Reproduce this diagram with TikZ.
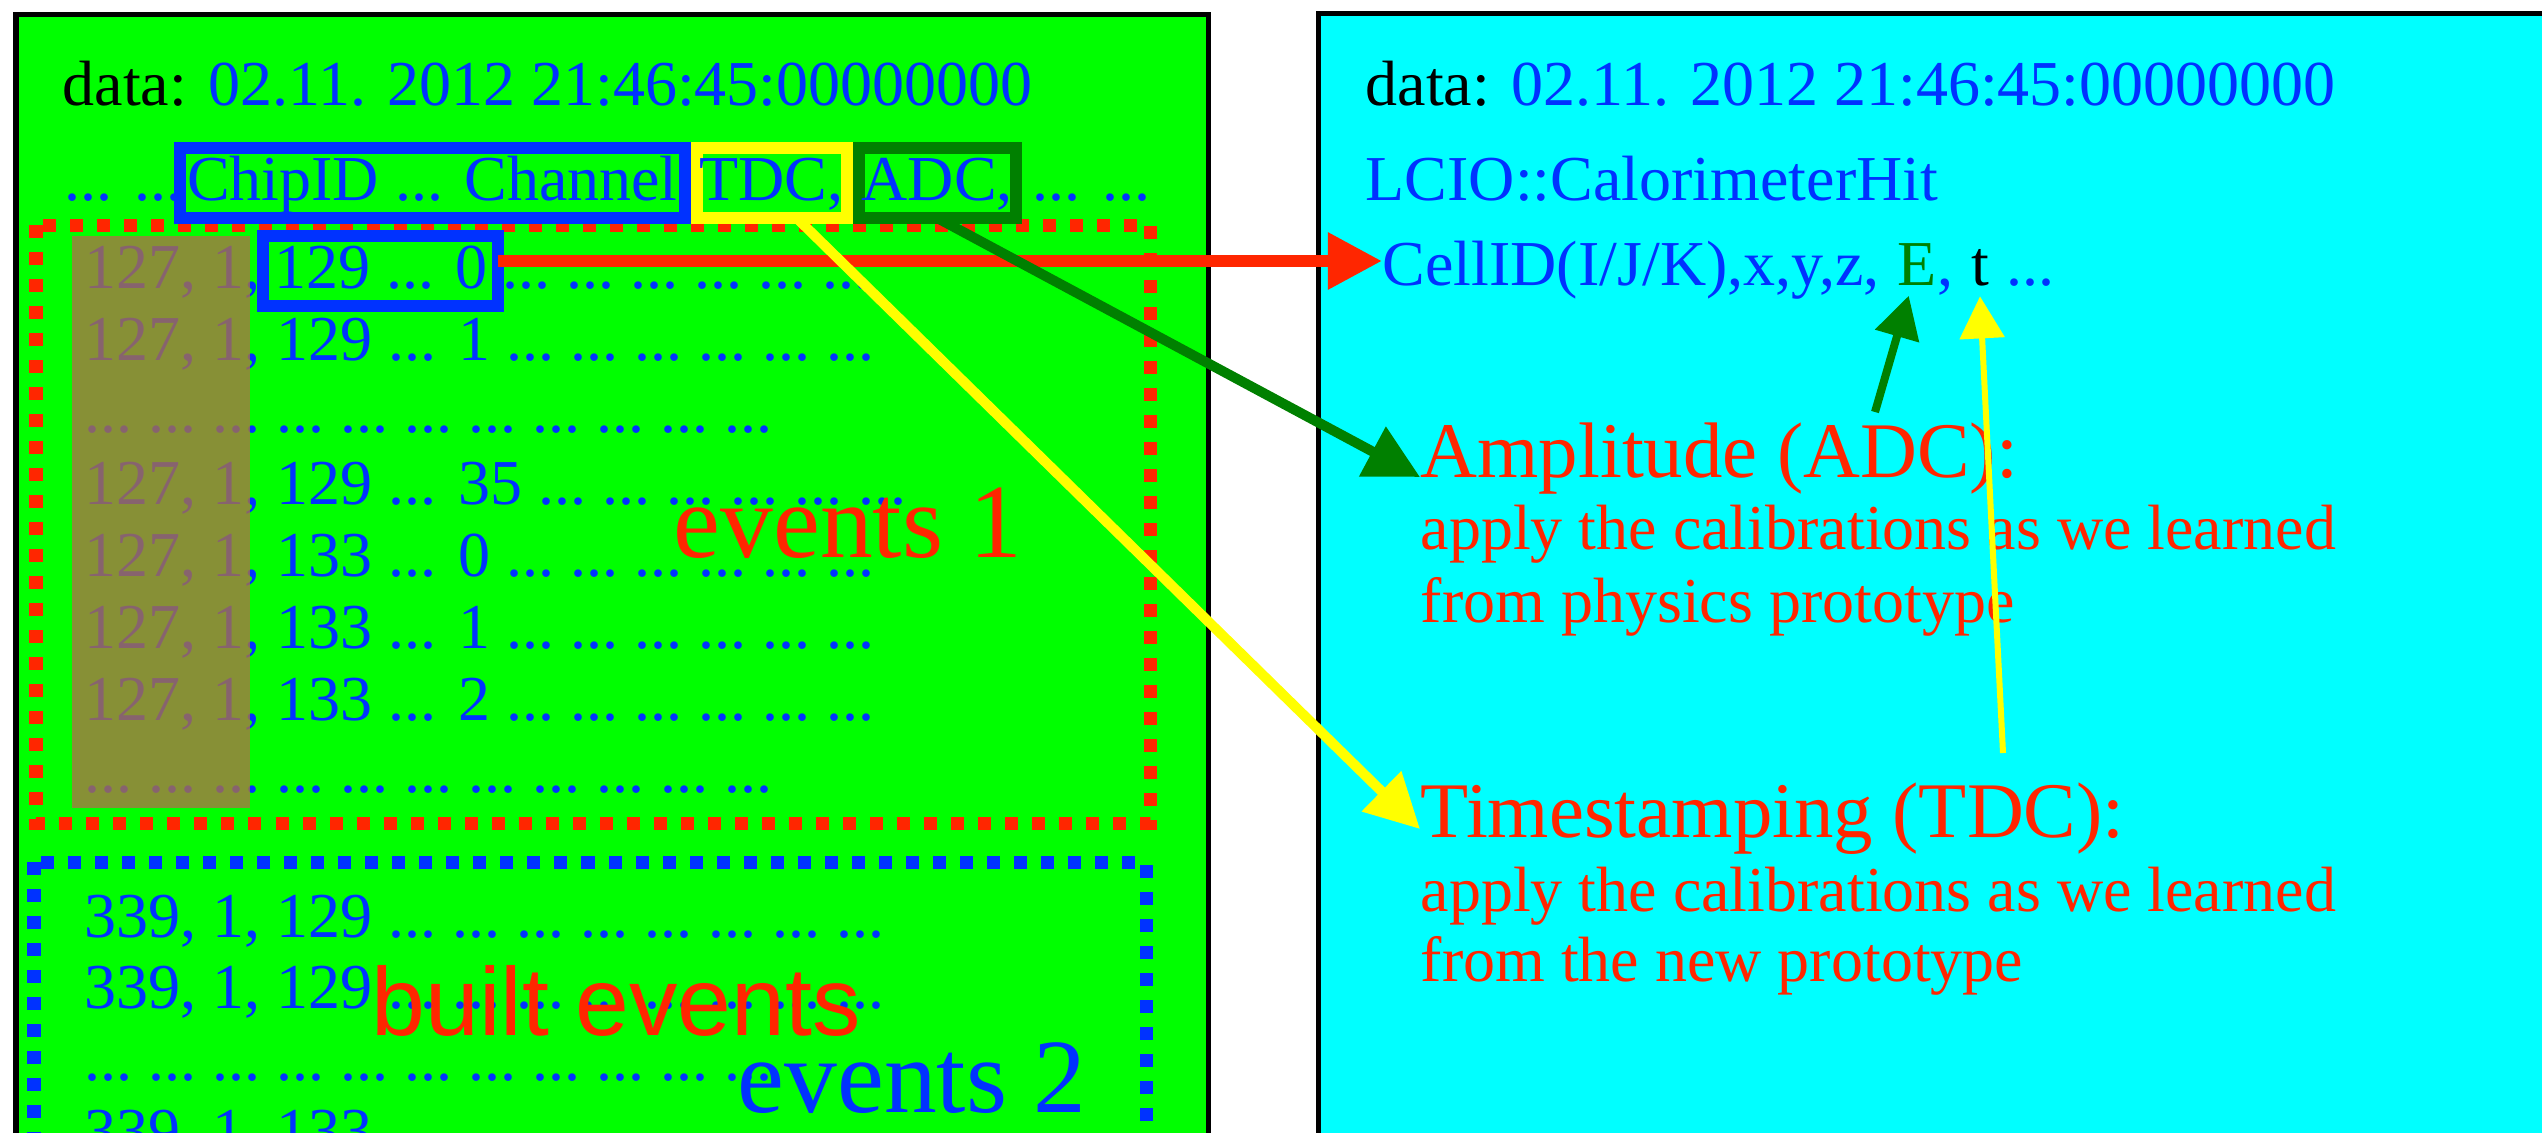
\documentclass[tikz,border=0pt]{standalone}
\usepackage{fontspec}
\setmainfont{Liberation Serif}
\newfontfamily\builtfont{Liberation Sans}
\usetikzlibrary{arrows.meta,positioning}
\definecolor{panelgreen}{RGB}{0,255,0}
\definecolor{panelcyan}{RGB}{0,255,255}
\definecolor{txtblue}{RGB}{0,50,255}
\definecolor{txtred}{RGB}{255,38,0}
\definecolor{adcgreen}{RGB}{0,128,0}
\definecolor{tdcyellow}{RGB}{255,255,0}
\definecolor{olivetone}{RGB}{173,114,70}
\newcommand{\datafont}{\fontsize{18.2}{21}\selectfont}
\newcommand{\dts}[1]{\foreach \dd in {1,...,#1}{\ ...}}
\newcommand{\datarow}[3]{\node[datatxt] (#1) at (84,#2) {#3};}
\tikzset{
  datatxt/.style={anchor=base west, inner sep=0pt, text=txtblue, font=\datafont},
  hdrbox/.style={draw, line width=0.12cm, outer sep=0pt, inner xsep=0.07cm, inner ysep=0pt,
    text height=0.52cm, text depth=0.18cm, text=txtblue, font=\datafont},
  bigtxt/.style={anchor=base west, inner sep=0pt, font=\fontsize{30}{34}\selectfont},
  calhead/.style={anchor=base west, inner sep=0pt, text=txtred, font=\fontsize{22.4}{26}\selectfont},
  caltxt/.style={anchor=base west, inner sep=0pt, text=txtred, font=\datafont},
  evframe/.style={line width=0.13cm, dash pattern=on 0.13cm off 0.14cm},
  fatarrow/.style={-{Triangle[length=0.54cm,width=0.54cm]}},
  slimarrow/.style={-{Triangle[length=0.42cm,width=0.44cm]}}
}

\begin{document}
\begin{tikzpicture}[x=0.01cm,y=-0.01cm]
\useasboundingbox (0,0) rectangle (2542,1132);
\clip (0,0) rectangle (2542,1132);
% panels
\draw[line width=0.05cm, fill=panelgreen] (16,14) rectangle (1208,1300);
\draw[line width=0.05cm, fill=panelcyan] (1318,13) rectangle (2700,1300);
\draw[evframe, txtred] (36,225) rectangle (1150,823);
\draw[evframe, txtblue] (34,862) rectangle (1146,1300);

% raw data
\node[datatxt, text=black] (dataL) at (62,105) {data: \textcolor{txtblue}{02.11. 2012 21:46:45:00000000}};
\node[datatxt] (hdrhead) at (64,200) {... ...};
\node[hdrbox, draw=txtblue, anchor=base west] (chip) at (180,200) {ChipID ... Channel};
\node[hdrbox, draw=tdcyellow, inner xsep=0.03cm, right=0.12cm of chip] (tdc) {TDC,};
\node[hdrbox, draw=adcgreen, inner xsep=0.03cm, right=0.12cm of tdc] (adc) {ADC,};
\node[datatxt] (hdrtail) at (1032,200) {... ...};

\node[datatxt] (rowa) at (84,288) {127, 1,};
\node[hdrbox, draw=txtblue, inner xsep=0.11cm, anchor=base west] (hit) at (263,288) {129 ... 0};
\node[datatxt] (rowatail) at (486,288) {\dts{6}};
\datarow{rowb}{360}{127, 1, 129 ... 1\dts{6}}\datarow{rowc}{432}{...\dts{10}}\datarow{rowd}{504}{127, 1, 129 ... 35\dts{6}}
\datarow{rowe}{576}{127, 1, 133 ... 0\dts{6}}\datarow{rowf}{648}{127, 1, 133 ... 1\dts{6}}
\datarow{rowg}{720}{127, 1, 133 ... 2\dts{6}}\datarow{rowh}{792}{...\dts{10}}
\fill[olivetone, fill opacity=0.78] (72,236) rectangle (250,808);
\node[bigtxt, text=txtred] (evone) at (673,557) {events 1};

% built events
\datarow{rowi}{937}{339, 1, 129\dts{8}}\datarow{rowj}{1008}{339, 1, 129\dts{8}}
\datarow{rowk}{1080}{...\dts{10}}\datarow{rowl}{1152}{339, 1, 133}
\node[anchor=base west, inner sep=0pt, text=txtred, font=\builtfont\fontsize{27.5}{30}\selectfont] (built) at (371,1035) {built events};
\node[bigtxt, text=txtblue] (evtwo) at (737,1112) {events 2};

% LCIO side
\node[datatxt, text=black] (dataR) at (1365,105) {data: \textcolor{txtblue}{02.11. 2012 21:46:45:00000000}};
\node[datatxt] (lcio) at (1365,200) {LCIO::CalorimeterHit};
\node[datatxt] (cell) at (1382,285) {CellID(I/J/K),x,y,z,};
\node[datatxt, text=adcgreen] (eE) at ([xshift=0.16cm]cell.base east) {E};
\node[datatxt] (comma) at (eE.base east) {,};
\node[datatxt, text=black] (tT) at ([xshift=0.16cm]comma.base east) {t};
\node[datatxt] (celltail) at ([xshift=0.16cm]tT.base east) {...};
\node[calhead] (amp) at (1420,477) {Amplitude (ADC):};
\node[caltxt] (ampa) at (1420,549) {apply the calibrations as we learned};
\node[caltxt] (ampb) at (1420,622) {from physics prototype};
\node[calhead] (time) at (1420,837) {Timestamping (TDC):};
\node[caltxt] (timea) at (1420,911) {apply the calibrations as we learned};
\node[caltxt] (timeb) at (1420,981) {from the new prototype};

% arrows
\coordinate (redstart) at ([yshift=0.1cm]hit.east);
\coordinate (eTail) at (1875,412);
\coordinate (tTail) at (2003,753);
\draw[fatarrow, txtred, line width=0.12cm] (redstart) -- (redstart -| cell.west);
\draw[fatarrow, adcgreen, line width=0.1cm] (adc.south) -- (amp.base west);
\draw[fatarrow, tdcyellow, line width=0.1cm] ([xshift=0.25cm]tdc.south) -- ([yshift=0.08cm]time.base west);
\draw[slimarrow, adcgreen, line width=0.08cm] (eTail) -- ([xshift=-0.08cm,yshift=-0.1cm]eE.south);
\draw[slimarrow, tdcyellow, line width=0.06cm] (tTail) -- ([yshift=-0.1cm]tT.south);
\end{tikzpicture}
\end{document}
